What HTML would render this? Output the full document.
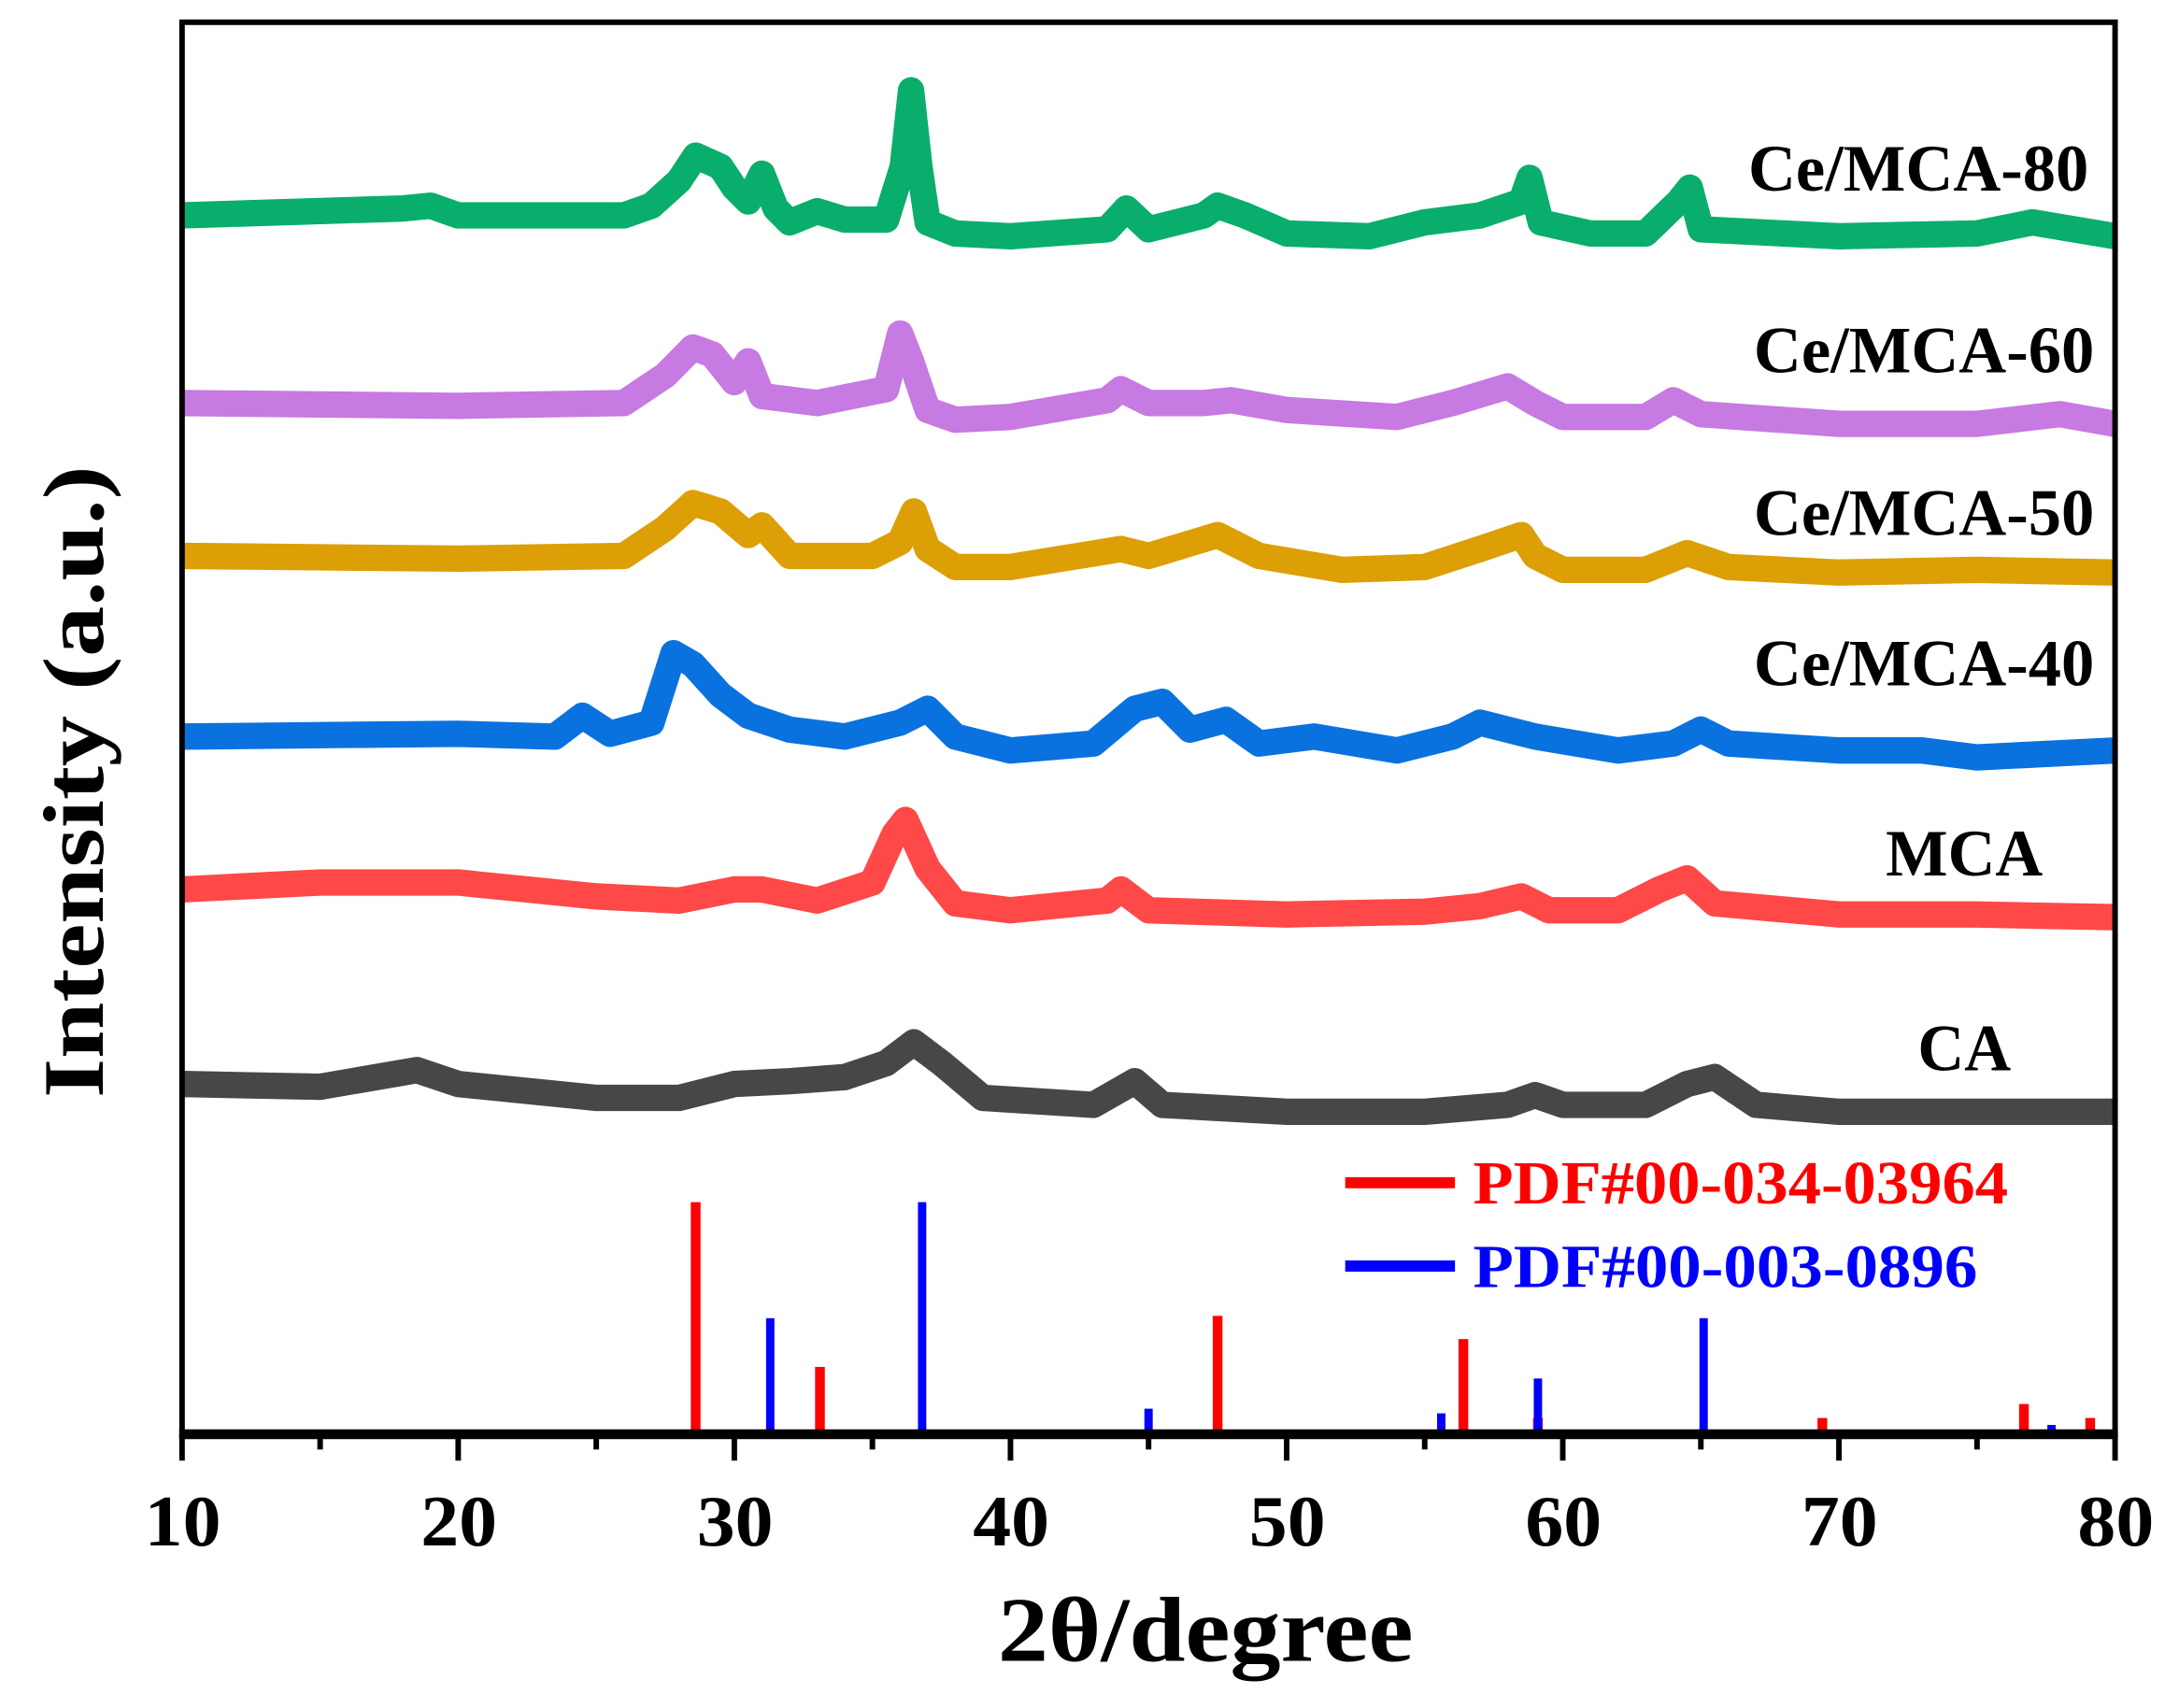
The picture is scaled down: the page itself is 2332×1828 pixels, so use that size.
<!DOCTYPE html>
<html><head><meta charset="utf-8"><style>
html,body{margin:0;padding:0;background:#fff;}
svg{display:block;}
text{font-family:"Liberation Serif",serif;font-weight:bold;}
</style></head><body>
<svg id="chart" width="2332" height="1828" viewBox="0 0 1568 1229" preserveAspectRatio="none" xmlns="http://www.w3.org/2000/svg">
<g id="series-layer"></g>
<g id="ref-layer"></g>
<rect x="131" y="16" width="1391" height="1016" fill="none" stroke="#000" stroke-width="4"/>
<line x1="129" y1="1032" x2="1524" y2="1032" stroke="#000" stroke-width="7"/>
<g id="tick-layer"></g>
<text x="718" y="1195" font-size="66" textLength="299" lengthAdjust="spacingAndGlyphs">2θ/degree</text>
<text transform="translate(74,790) rotate(-90)" font-size="62" textLength="455" lengthAdjust="spacingAndGlyphs">Intensity (a.u.)</text>
<g>
<line x1="968" y1="851" x2="1047" y2="851" stroke="#ff0000" stroke-width="8"/>
<text x="1060" y="866" font-size="44" fill="#ff0000" textLength="385" lengthAdjust="spacingAndGlyphs">PDF#00-034-03964</text>
<line x1="968" y1="911" x2="1047" y2="911" stroke="#0000ff" stroke-width="8"/>
<text x="1060" y="926" font-size="44" fill="#0000ff" textLength="363" lengthAdjust="spacingAndGlyphs">PDF#00-003-0896</text>
</g>
</svg>
<script>
var xTicks=[10,20,30,40,50,60,70,80];
var xMinor=[15,25,35,45,55,65,75];
var seriesNames=["Ce/MCA-80","Ce/MCA-60","Ce/MCA-50","Ce/MCA-40","MCA","CA"];
var seriesColors=["#0aae6c","#c67ae2","#dc9f06","#0a72de","#ff4848","#474747"];
var s80x=[10,18,19,20,26,27,28,28.6,29.5,30,30.5,31,31.5,32,33,34,35.5,36.1,36.4,36.7,37,38,40,43.5,44.2,45,47,47.5,48.5,50,53,55,57,58.5,58.8,59.2,61,63,64.2,64.6,65,70,75,77,80];
var s80y=[877,882,884,877,877,884,902,920,912,897,887,907,882,872,880,874,874,912,967,912,872,864,862,867,882,867,877,884,877,864,862,872,877,887,904,872,864,864,887,897,867,862,864,872,862];
var s60x=[10,20,26,27.5,28.5,29.2,30,30.5,31,33,35.5,36,36.4,37,38,40,43.5,44,45,47,48,50,54,56,58,59,60,63,64,65,70,75,78,80];
var s60y=[742,740,742,762,782,777,757,772,747,742,752,792,772,737,730,732,744,752,742,742,744,737,732,742,754,742,732,732,744,734,727,727,734,727];
var s50x=[10,20,26,27.5,28.5,29.5,30.5,31,32,35,36,36.5,37,38,40,44,45,47.5,49,52,55,57,58.5,59,60,63,64.5,66,70,75,80];
var s50y=[632,630,632,652,670,664,647,654,632,632,642,664,637,624,624,637,632,647,632,622,624,637,647,632,622,622,634,624,620,622,620];
var s40x=[10,20,23.5,24.5,25.5,27,27.8,28.5,29.5,30.5,32,34,36,37,38,40,43,44.5,45.5,46.5,47.8,49,51,54,56,57,59,62,64,65,66,70,73,75,80];
var s40y=[502,504,502,517,504,512,562,554,532,517,507,502,512,522,502,492,497,522,527,507,514,497,502,492,502,512,502,492,497,507,497,492,492,487,492];
var sMx=[10,15,20,25,28,30,31,33,35,35.8,36.2,37,38,40,43.5,44,45,50,55,57,58.5,59.5,62,63.5,64.5,65.5,70,75,80];
var sMy=[392,397,397,387,384,392,392,384,397,432,442,407,382,377,384,392,377,374,376,380,387,377,377,392,400,382,374,374,372];
var sCx=[10,15,18.5,20,25,28,30,32,34,35.5,36.5,37.5,39,43,44.5,45.5,50,55,58,59,60,63,64.5,65.5,67,70,75,80];
var sCy=[252,250,262,252,242,242,252,254,257,267,282,267,242,237,254,237,232,232,237,244,237,237,252,257,237,232,232,232];
var seriesX=[s80x,s60x,s50x,s40x,sMx,sCx];
var seriesY=[s80y,s60y,s50y,s40y,sMy,sCy];
var redPos=[28.6,33.1,47.5,56.4,59.1,69.4,76.7,79.1];
var redInt=[100,29,51,41,7,7,13,7];
var bluePos=[31.3,36.8,45.0,55.6,59.1,65.1,77.7];
var blueInt=[50,100,11,9,24,50,4];

var NS="http://www.w3.org/2000/svg";
function xs(v){return 131+(v-10)*(1522-131)/70;}
function ys(v){return 1032-v;}
function yb(v){return 1032-v*1.67;}
function mk(t,a,p){var e=document.createElementNS(NS,t);for(var k in a)e.setAttribute(k,a[k]);p.appendChild(e);return e;}
var sl=document.getElementById('series-layer');
var labelPos=[[1258,137,245],[1262,268,245],[1262,385,245],[1262,493,245],[1357,630,113],[1380,770,67]];
for(var i=0;i<seriesNames.length;i++){
  var pts=[];
  for(var j=0;j<seriesX[i].length;j++)pts.push(xs(seriesX[i][j]).toFixed(1)+","+ys(seriesY[i][j]).toFixed(1));
  var pl=mk('polyline',{points:pts.join(' '),fill:'none',stroke:seriesColors[i],'stroke-width':19,'stroke-linejoin':'round','stroke-linecap':'butt'},sl);
  
  
  var t=mk('text',{x:labelPos[i][0],y:labelPos[i][1],'font-size':48,textLength:labelPos[i][2],lengthAdjust:'spacingAndGlyphs'},sl);
  t.textContent=seriesNames[i];
  
  
}
var rl=document.getElementById('ref-layer');
for(var i=0;i<redPos.length;i++){
  var r=mk('rect',{x:xs(redPos[i])-3.5,y:yb(redInt[i]),width:7,height:1032-yb(redInt[i]),fill:'#ff0000'},rl);
  
  
}
for(var i=0;i<bluePos.length;i++){
  var r=mk('rect',{x:xs(bluePos[i])-3,y:yb(blueInt[i]),width:6,height:1032-yb(blueInt[i]),fill:'#0000ff'},rl);
  
  
}
var tl=document.getElementById('tick-layer');
for(var i=0;i<xTicks.length;i++){
  var l=mk('line',{x1:xs(xTicks[i]),y1:1032,x2:xs(xTicks[i]),y2:1051,stroke:'#000','stroke-width':4},tl);
  
  
  var t=mk('text',{x:xs(xTicks[i])-27,y:1112,'font-size':52,textLength:55,lengthAdjust:'spacingAndGlyphs'},tl);
  t.textContent=xTicks[i];
  
  
}
for(var i=0;i<xMinor.length;i++){
  var l=mk('line',{x1:xs(xMinor[i]),y1:1032,x2:xs(xMinor[i]),y2:1043,stroke:'#000','stroke-width':4},tl);
  
  
}
</script>
</body></html>
